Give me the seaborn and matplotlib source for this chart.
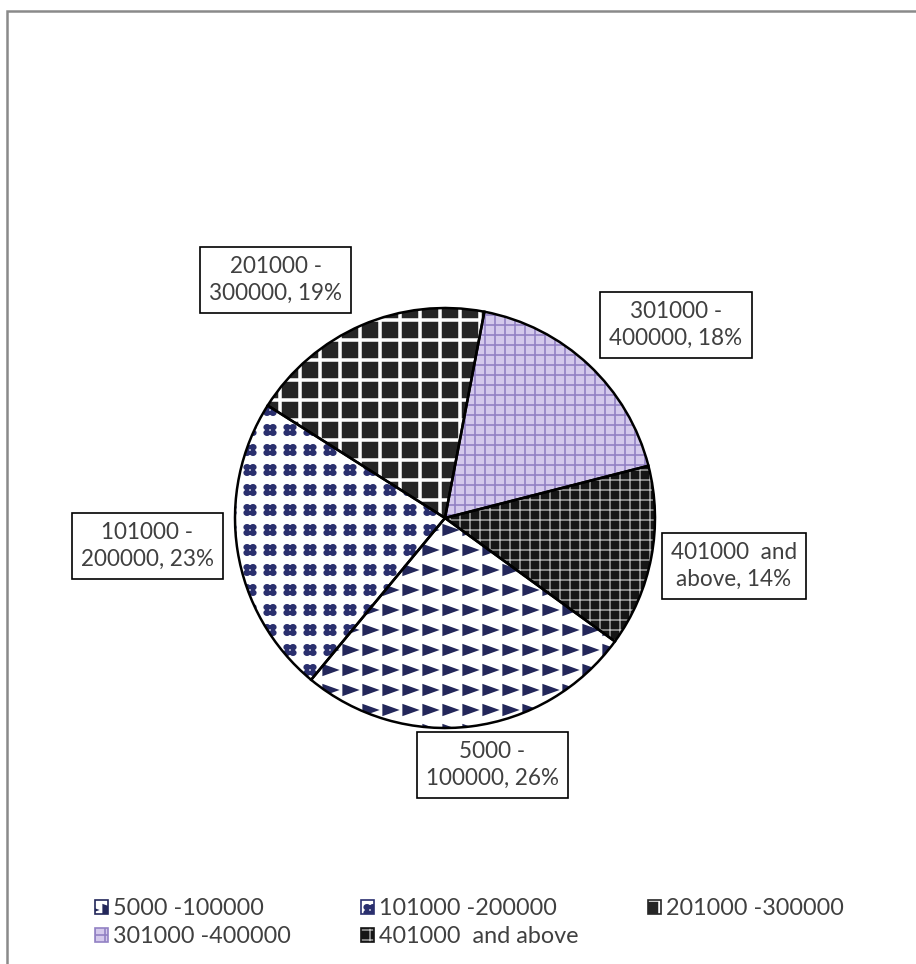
import numpy as np
import matplotlib
matplotlib.use("Agg")
import matplotlib.pyplot as plt
import matplotlib.hatch as mhatch
from matplotlib.path import Path
from matplotlib.patches import Patch, Rectangle
import seaborn as sns

# ---- data -------------------------------------------------------------
categories = ["5000 -100000", "101000 -200000", "201000 -300000",
              "301000 -400000", "401000  and above"]
shares = [26, 23, 19, 18, 14]
label_names = ["5000 -\n100000", "101000 -\n200000", "201000 -\n300000",
               "301000 -\n400000", "401000  and\nabove"]

# ---- styling ----------------------------------------------------------
face_colors = ["#ffffff", "#ffffff", "#ffffff", "#d4c9ec", "#ffffff"]
hatch_colors = ["#23275a", "#2a2f6e", "#262626", "#9281c4", "#151515"]
hatches = ["*", "O", "o", "++", "oo"]
# label centres relative to the pie centre (radius = 1)
label_pos = [(0.224, -1.176), (-1.419, -0.133), (-0.805, 1.133),
             (1.10, 0.919), (1.376, -0.229)]


# ---- custom fill patterns (filled shapes on a regular grid) -------------
class _GridShapes:
    char = "*"
    base = 6

    def __init__(self, hatch, density):
        count = hatch.count(self.char) if hatch else 0
        self.n = self.base * count
        self.shape_vertices = np.asarray(self.shape(), float)
        self.parts_list = self.parts()
        per = sum(len(p) for p in self.parts_list)
        self.num_vertices = self.n * self.n * per if count else 0

    def parts(self):
        return [self.shape_vertices]

    def set_vertices_and_codes(self, vertices, codes):
        cell = 1.0 / self.n
        idx = 0
        for i in range(self.n):
            for j in range(self.n):
                cx, cy = (i + 0.5) * cell, (j + 0.5) * cell
                for p in self.parts_list:
                    k = len(p)
                    vertices[idx:idx + k] = p * cell + (cx, cy)
                    codes[idx] = Path.MOVETO
                    codes[idx + 1:idx + k - 1] = Path.LINETO
                    codes[idx + k - 1] = Path.CLOSEPOLY
                    idx += k


class _Triangles(_GridShapes):
    char = "*"
    base = 6

    def shape(self):
        return [(-0.34, -0.25), (0.36, 0.0), (-0.34, 0.25), (-0.34, -0.25)]


class _DotClusters(_GridShapes):
    char = "O"
    base = 6

    def shape(self):
        t = np.linspace(0, 2 * np.pi, 13)
        return np.c_[np.cos(t), np.sin(t)] * np.array([0.14, 0.12])

    def parts(self):
        circ = self.shape_vertices
        offs = [(-0.15, -0.14), (0.15, -0.14), (-0.15, 0.14), (0.15, 0.14)]
        return [circ + o for o in offs]


class _Squares(_GridShapes):
    char = "o"
    base = 6

    def shape(self):
        s = 0.37
        return [(-s, -s), (s, -s), (s, s), (-s, s), (-s, -s)]


for i, ht in enumerate(mhatch._hatch_types):
    if ht is mhatch.Stars:
        mhatch._hatch_types[i] = _Triangles
    elif ht is mhatch.LargeCircles:
        mhatch._hatch_types[i] = _DotClusters
    elif ht is mhatch.SmallCircles:
        mhatch._hatch_types[i] = _Squares

# ---- figure -----------------------------------------------------------
sns.set_theme(style="white")
plt.rcParams["font.family"] = ["Lato", "DejaVu Sans"]
plt.rcParams["hatch.linewidth"] = 1.0

W, H, DPI = 916, 964, 120
fig = plt.figure(figsize=(W / DPI, H / DPI), dpi=DPI)
ax = fig.add_axes([0, 0, 1, 1])
ax.set_axis_off()

wedges, _ = ax.pie(shares, startangle=-36, counterclock=False,
                   colors=face_colors, hatch=hatches,
                   wedgeprops=dict(linewidth=0))
for w, hc in zip(wedges, hatch_colors):
    w.set_edgecolor(hc)
    w.set_linewidth(0)

ax.pie(shares, startangle=-36, counterclock=False,
       wedgeprops=dict(fill=False, edgecolor="black", linewidth=1.5))

# pixel-accurate placement of the pie: centre (445, 518), radius 210 px
cx, cy, r = 445, H - 518, 210
ax.set_xlim(-cx / r, (W - cx) / r)
ax.set_ylim(-cy / r, (H - cy) / r)
ax.set_aspect("equal")

text_color = "#404040"
for name, val, (lx, ly) in zip(label_names, shares, label_pos):
    ax.text(lx, ly, f"{name}, {val}%", ha="center", va="center",
            multialignment="center", fontsize=13.5, color=text_color,
            linespacing=1.35,
            bbox=dict(boxstyle="square,pad=0.4", fc="white", ec="black",
                      lw=1.0))

# legend in row-major order
handles = [Patch(facecolor=fc, edgecolor=hc, hatch=h, linewidth=1.0)
           for fc, hc, h in zip(face_colors, hatch_colors, hatches)]
order = [0, 3, 1, 4, 2]
leg = fig.legend([handles[i] for i in order], [categories[i] for i in order],
                 loc="upper left", bbox_to_anchor=(95 / W, 1 - 898 / H),
                 ncol=3, frameon=False, fontsize=14, borderpad=0,
                 borderaxespad=0, handlelength=0.55, handleheight=0.55,
                 handletextpad=0.22, columnspacing=3.0, labelspacing=0.3)
for t in leg.get_texts():
    t.set_color(text_color)

# outer frame (top and left edges visible)
fig.patches.append(Rectangle((7 / W, -0.1), 1.2, 1 - 11 / H + 0.1,
                             transform=fig.transFigure, fill=False,
                             edgecolor="#8a8a8a", linewidth=1.5))

fig.savefig("out.png", dpi=DPI)
